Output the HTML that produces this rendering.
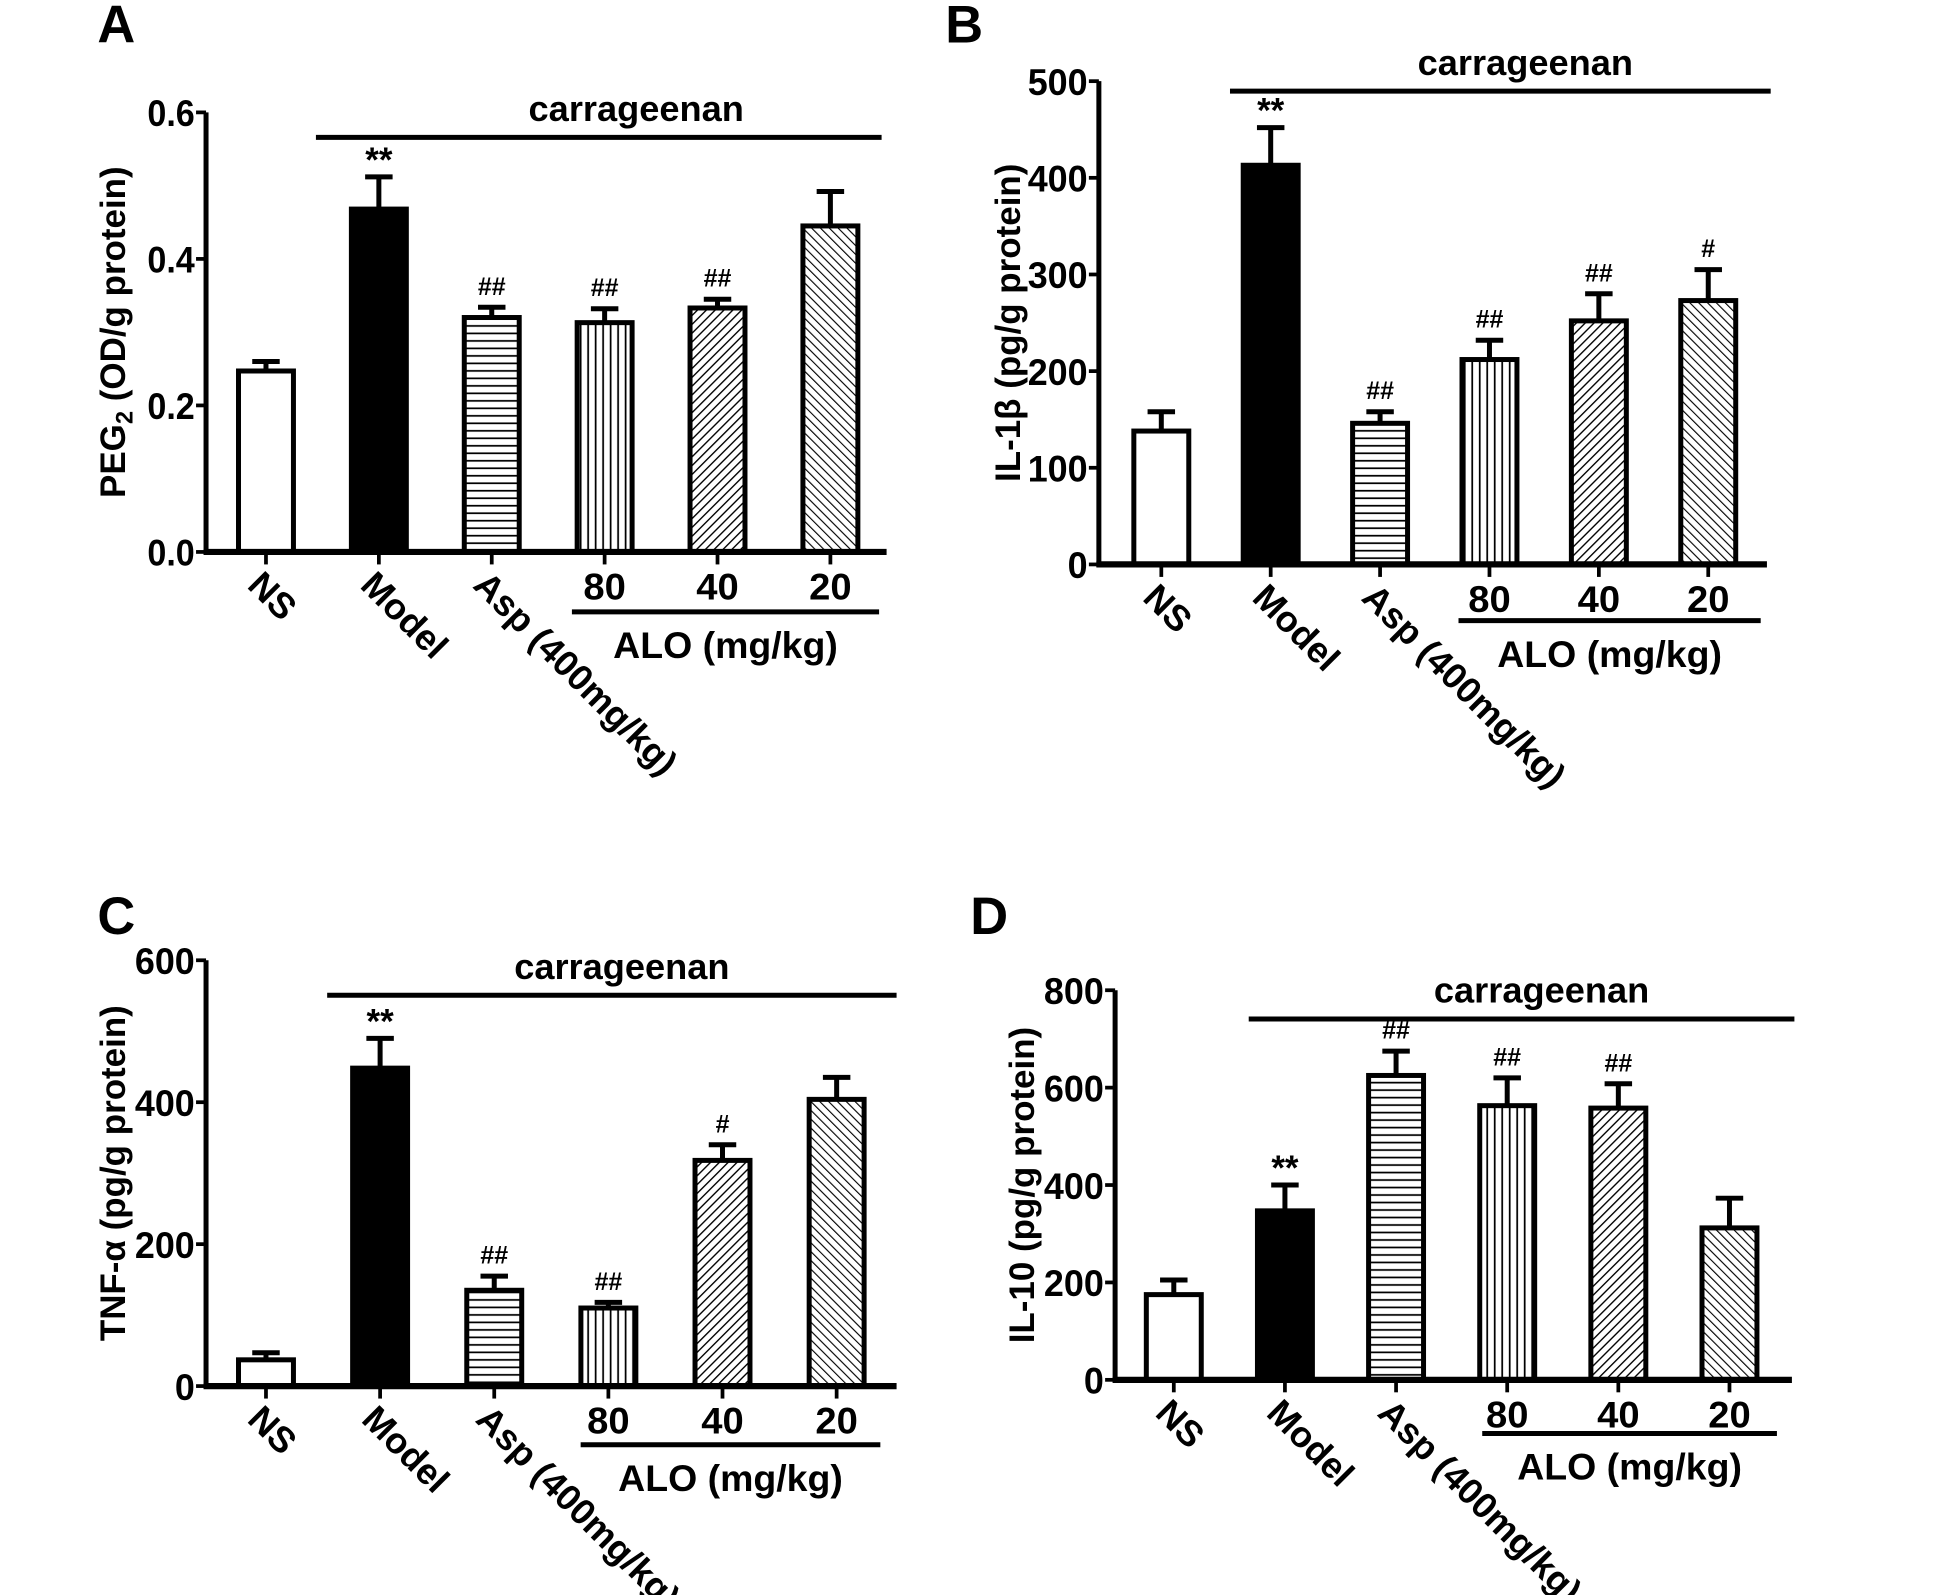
<!DOCTYPE html>
<html><head><meta charset="utf-8"><style>
html,body{margin:0;padding:0;background:#fff;}
svg{display:block;}
text{font-family:"Liberation Sans",sans-serif;font-weight:bold;fill:#000;}
</style></head><body>
<svg id="fig" width="1948" height="1595" viewBox="0 0 1560 1277.3" xmlns="http://www.w3.org/2000/svg">
<defs>
<pattern id="p-h" patternUnits="userSpaceOnUse" width="8" height="6"><rect width="8" height="6" fill="#fff"/><line x1="0" y1="3" x2="8" y2="3" stroke="#000" stroke-width="1.4"/></pattern>
<pattern id="p-v" patternUnits="userSpaceOnUse" width="6" height="8"><rect width="6" height="8" fill="#fff"/><line x1="3" y1="0" x2="3" y2="8" stroke="#000" stroke-width="1.4"/></pattern>
<pattern id="p-d1" patternUnits="userSpaceOnUse" width="5" height="5" patternTransform="rotate(45)"><rect width="5" height="5" fill="#fff"/><line x1="0" y1="0" x2="0" y2="5" stroke="#000" stroke-width="2.2"/></pattern>
<pattern id="p-d2" patternUnits="userSpaceOnUse" width="5" height="5" patternTransform="rotate(-45)"><rect width="5" height="5" fill="#fff"/><line x1="0" y1="0" x2="0" y2="5" stroke="#000" stroke-width="1.8"/></pattern>
</defs>
</svg>
<script>
const categories = ["NS","Model","Asp (400mg/kg)","80","40","20"];
const valuesA = [0.247,0.468,0.320,0.313,0.333,0.445];
const errA    = [0.013,0.044,0.014,0.019,0.012,0.047];
const marksA  = ["","**","##","##","##",""];
const ticksA  = ["0.0","0.2","0.4","0.6"];
const valuesB = [138,413,146,212,252,273];
const errB    = [20,39,12,20,28,32];
const marksB  = ["","**","##","##","##","#"];
const ticksB  = ["0","100","200","300","400","500"];
const valuesC = [37,448,135,110,318,404];
const errC    = [10,42,20,8,22,31];
const marksC  = ["","**","##","##","#",""];
const ticksC  = ["0","200","400","600"];
const valuesD = [175,347,625,563,558,312];
const errD    = [30,53,50,57,50,61];
const marksD  = ["","**","##","##","##",""];
const ticksD  = ["0","200","400","600","800"];

const NS='http://www.w3.org/2000/svg';
const svg=document.getElementById('fig');
function mk(tag,attrs,parent){const e=document.createElementNS(NS,tag);for(const k in attrs)e.setAttribute(k,attrs[k]);(parent||svg).appendChild(e);return e;}
const fills=["#fff","#000","url(#p-h)","url(#p-v)","url(#p-d1)","url(#p-d2)"];
function tlen(s){let w=0;for(const ch of s)w+=(ch==='.'?6:16);return w;}

function panel(cfg,values,errs,marks,ticks){
  const g=mk('g',{});
  
  
  const ymax=parseFloat(ticks[ticks.length-1]);
  const ys=v=>cfg.y0-(v/ymax)*(cfg.y0-cfg.ytop);
  const xs=i=>cfg.x1+i*cfg.step;
  const bw=44;
  let t=mk('text',{x:cfg.lx,y:cfg.ly,'font-size':42},g);t.textContent=cfg.id;
  
  values.forEach((v,i)=>{
    const x=xs(i), y=ys(v), ye=ys(v+errs[i]);
    const e=mk('line',{x1:x,y1:y,x2:x,y2:ye,stroke:'#000','stroke-width':4},g);
    
    const c=mk('line',{x1:x-11,y1:ye,x2:x+11,y2:ye,stroke:'#000','stroke-width':4},g);
    
    const r=mk('rect',{x:x-bw/2,y:y,width:bw,height:cfg.y0-y,fill:fills[i],stroke:'#000','stroke-width':4},g);
    
    
    if(marks[i]){
      const m=mk('text',{x:x,y:ye-(marks[i]==='**'?4:10),'text-anchor':'middle','font-size':marks[i]==='**'?28:20,'font-weight':marks[i]==='**'?'bold':'normal'},g);
      m.textContent=marks[i];
      
    }
    const tk=mk('line',{x1:x,y1:cfg.y0,x2:x,y2:cfg.y0+10,stroke:'#000','stroke-width':3},g);
    
    if(i<3){
      const lb=mk('text',{x:0,y:0,'font-size':29,transform:`translate(${x-16},${cfg.y0+28}) rotate(45)`},g);
      lb.textContent=categories[i];
      
    } else {
      const lb=mk('text',{x:x,y:cfg.y0+38,'font-size':30,'text-anchor':'middle',textLength:34,lengthAdjust:'spacingAndGlyphs'},g);
      lb.textContent=categories[i];
      
    }
  });
  const ya=mk('line',{x1:cfg.x0,y1:cfg.ytop,x2:cfg.x0,y2:cfg.y0+2,stroke:'#000','stroke-width':4},g);
  
  const xa=mk('line',{x1:cfg.x0-2,y1:cfg.y0,x2:cfg.xend,y2:cfg.y0,stroke:'#000','stroke-width':5},g);
  
  ticks.forEach(tv=>{
    const y=ys(parseFloat(tv));
    const l=mk('line',{x1:cfg.x0-8,y1:y,x2:cfg.x0,y2:y,stroke:'#000','stroke-width':3},g);
    
    const tx=mk('text',{x:cfg.x0-9-tlen(tv),y:y+11,'font-size':30,textLength:tlen(tv),lengthAdjust:'spacingAndGlyphs'},g);
    tx.textContent=tv;
    
  });
  const yt=mk('text',{x:0,y:0,'font-size':28,'text-anchor':'middle',transform:`translate(${cfg.tx},${(cfg.y0+cfg.ytop)/2}) rotate(-90)`},g);
  yt.innerHTML=cfg.title;
  
  const cl=mk('line',{x1:cfg.c1,y1:cfg.cy,x2:cfg.c2,y2:cfg.cy,stroke:'#000','stroke-width':4},g);
  
  const ct=mk('text',{x:(cfg.c1+cfg.c2)/2+cfg.cdx,y:cfg.cy-13,'font-size':29,'text-anchor':'middle'},g);
  ct.textContent='carrageenan';
  
  const al=mk('line',{x1:cfg.a1,y1:cfg.ay,x2:cfg.a2,y2:cfg.ay,stroke:'#000','stroke-width':4},g);
  
  const at=mk('text',{x:(cfg.a1+cfg.a2)/2,y:cfg.ay+37,'font-size':30,'text-anchor':'middle'},g);
  at.textContent='ALO (mg/kg)';
  
}
panel({id:'A',lx:78,ly:34,x0:165,y0:442,ytop:90,x1:213,step:90.4,xend:710,tx:100,
  title:'PEG<tspan font-size="19" dy="6">2</tspan><tspan dy="-6"> (OD/g protein)</tspan>',
  c1:253,c2:706,cy:110,cdx:30,a1:458,a2:704,ay:490},valuesA,errA,marksA,ticksA);
panel({id:'B',lx:757,ly:34,x0:880,y0:452,ytop:65,x1:930,step:87.6,xend:1415,tx:817,
  title:'IL-1β (pg/g protein)',c1:985,c2:1418,cy:73,cdx:20,a1:1168,a2:1410,ay:497},valuesB,errB,marksB,ticksB);
panel({id:'C',lx:78,ly:748,x0:165,y0:1110,ytop:769,x1:213,step:91.4,xend:718,tx:100,
  title:'TNF-α (pg/g protein)',c1:262,c2:718,cy:797,cdx:8,a1:465,a2:705,ay:1157},valuesC,errC,marksC,ticksC);
panel({id:'D',lx:777,ly:748,x0:893,y0:1105,ytop:793,x1:940,step:89,xend:1435,tx:828,
  title:'IL-10 (pg/g protein)',c1:1000,c2:1437,cy:816,cdx:16,a1:1187,a2:1423,ay:1148},valuesD,errD,marksD,ticksD);
</script>
</body></html>
